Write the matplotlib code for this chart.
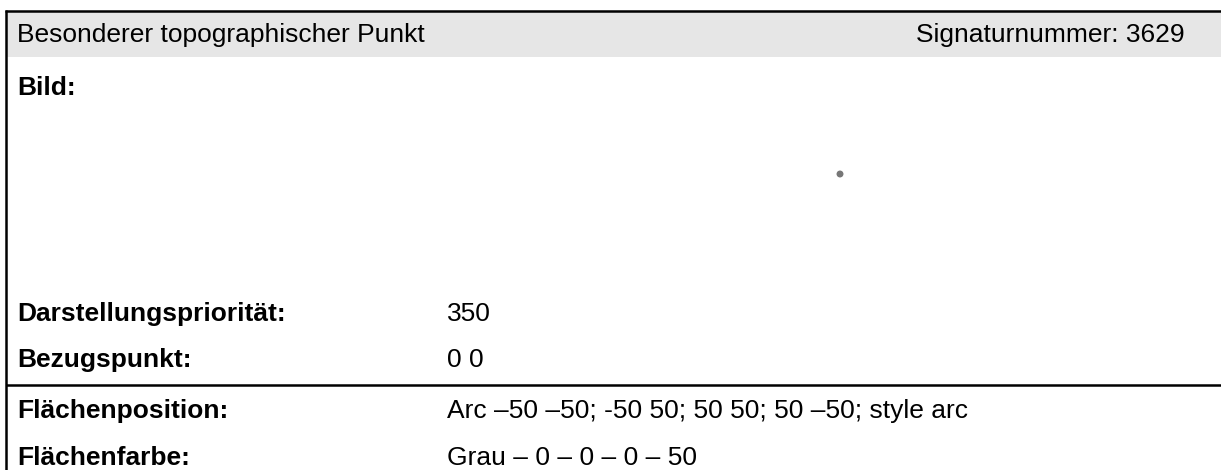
import matplotlib
matplotlib.use("Agg")
import matplotlib.pyplot as plt
from matplotlib.patches import Rectangle

plt.rcParams['font.family'] = ['Liberation Sans', 'DejaVu Sans']

# ---- content ----
header_title = "Besonderer topographischer Punkt"
header_number = "Signaturnummer: 3629"
image_label = "Bild:"
row_labels = ["Darstellungspriorität:", "Bezugspunkt:", "Flächenposition:", "Flächenfarbe:"]
row_values = ["350", "0 0", "Arc –50 –50; -50 50; 50 50; 50 –50; style arc", "Grau – 0 – 0 – 0 – 50"]
point_x = [840]
point_y = [174]

W, H = 1221, 470
fig = plt.figure(figsize=(W / 100, H / 100), dpi=100)
ax = fig.add_axes([0, 0, 1, 1])
ax.set_xlim(0, W)
ax.set_ylim(H, 0)
ax.axis('off')

# header band
ax.add_patch(Rectangle((6, 12), W, 45, facecolor='#e6e6e6', edgecolor='none'))
# frame lines
ax.plot([5, W], [11, 11], color='black', lw=1.8, solid_capstyle='butt')
ax.plot([6, 6], [10, H], color='black', lw=1.8, solid_capstyle='butt')
ax.plot([6, W], [385, 385], color='black', lw=1.8, solid_capstyle='butt')

fs = 19
ax.text(17, 35, header_title, fontsize=fs, va='center', ha='left')
ax.text(1185, 35, header_number, fontsize=fs, va='center', ha='right')
ax.text(17, 88, image_label, fontsize=fs, va='center', ha='left', fontweight='bold')

row_y = [314, 360, 411, 458]
val_x = 447
for lab, val, y in zip(row_labels, row_values, row_y):
    ax.text(17, y, lab, fontsize=fs, va='center', ha='left', fontweight='bold')
    ax.text(val_x, y, val, fontsize=fs, va='center', ha='left')

ax.scatter(point_x, point_y, s=25, color='#777777', edgecolors='none')

fig.savefig("out.png", dpi=100)
